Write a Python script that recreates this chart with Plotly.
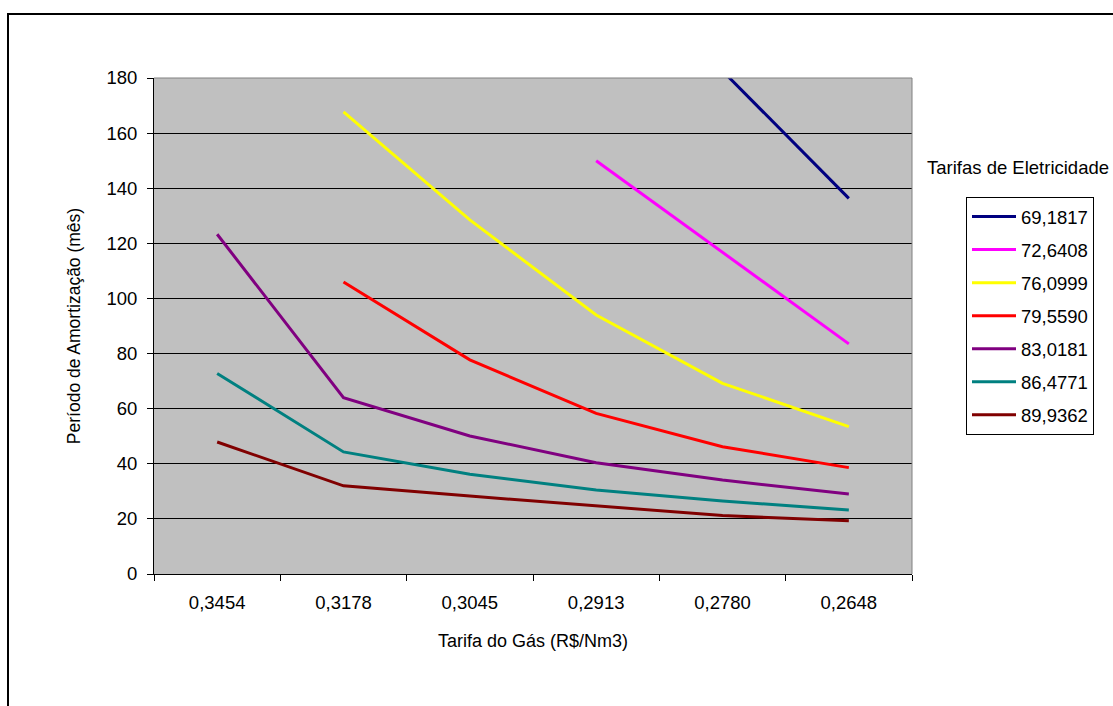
import plotly.graph_objects as go

categories = ["0,3454", "0,3178", "0,3045", "0,2913", "0,2780", "0,2648"]
series_names = ["69,1817", "72,6408", "76,0999", "79,5590", "83,0181", "86,4771", "89,9362"]
s_69 = [None, None, None, None, 182.6, 136.3]
s_72 = [None, None, None, 150.0, 116.7, 83.5]
s_76 = [None, 167.7, 128.5, 94.0, 69.2, 53.5]
s_79 = [None, 106.0, 77.7, 58.3, 46.2, 38.6]
s_83 = [123.3, 64.0, 50.1, 40.4, 34.1, 29.0]
s_86 = [72.8, 44.3, 36.2, 30.5, 26.5, 23.2]
s_89 = [47.9, 32.0, 28.3, 24.7, 21.2, 19.3]
series_values = [s_69, s_72, s_76, s_79, s_83, s_86, s_89]
colors = ["#000080", "#FF00FF", "#FFFF00", "#FF0000", "#800080", "#008080", "#800000"]

FONT = "Liberation Sans, Arial, sans-serif"
W, H = 1113, 706
L, R, T, B = 154, 201, 78, 132
pw, ph = W - L - R, H - T - B

def px(x):
    return (x - L) / pw

def py(y):
    return (H - B - y) / ph

fig = go.Figure()
for i, (name, vals, col) in enumerate(zip(series_names, series_values, colors)):
    fig.add_trace(go.Scatter(
        x=categories, y=vals, name=name, mode="lines",
        line=dict(color=col, width=3), legendgroup=f"g{i}",
        connectgaps=False,
    ))

fig.update_layout(
    width=W, height=H,
    margin=dict(l=L, r=R, t=T, b=B, autoexpand=False),
    paper_bgcolor="white", plot_bgcolor="#C0C0C0",
    font=dict(family=FONT, size=18.5, color="black"),
    showlegend=True,
    legend=dict(
        x=px(966), y=py(197), xanchor="left", yanchor="top",
        bgcolor="white", bordercolor="black", borderwidth=1,
        font=dict(size=18.5), tracegroupgap=6, itemwidth=44,
    ),
    xaxis=dict(
        type="category", range=[-0.5, 5.5], showgrid=False, zeroline=False,
        showline=True, linecolor="black", linewidth=1,
        ticks="outside", ticklen=6, tickcolor="black", tickson="boundaries",
        ticklabelstandoff=12,
        title=dict(text="Tarifa do Gás (R$/Nm3)", standoff=22, font=dict(size=18)),
    ),
    yaxis=dict(
        range=[0, 180], dtick=20, showgrid=True, gridcolor="black", gridwidth=1,
        zeroline=False, showline=True, linecolor="black", linewidth=1,
        ticks="outside", ticklen=6, tickcolor="black", ticklabelstandoff=6,
        title=dict(text="Período de Amortização (mês)", standoff=21, font=dict(size=17.5)),
    ),
    shapes=[
        dict(type="line", xref="paper", yref="paper", x0=0, x1=1, y0=1, y1=1,
             line=dict(color="#808080", width=1), layer="above"),
        dict(type="line", xref="paper", yref="paper", x0=1, x1=1, y0=0, y1=1,
             line=dict(color="#808080", width=1), layer="above"),
        dict(type="rect", xref="paper", yref="paper",
             x0=px(8), x1=px(1180), y0=py(760), y1=py(14),
             line=dict(color="black", width=2), layer="above"),
    ],
    annotations=[
        dict(text="Tarifas de Eletricidade", xref="paper", yref="paper",
             x=px(1018), y=py(167), xanchor="center", yanchor="middle",
             showarrow=False, font=dict(size=18.5)),
    ],
)

fig.write_html("out.html")
